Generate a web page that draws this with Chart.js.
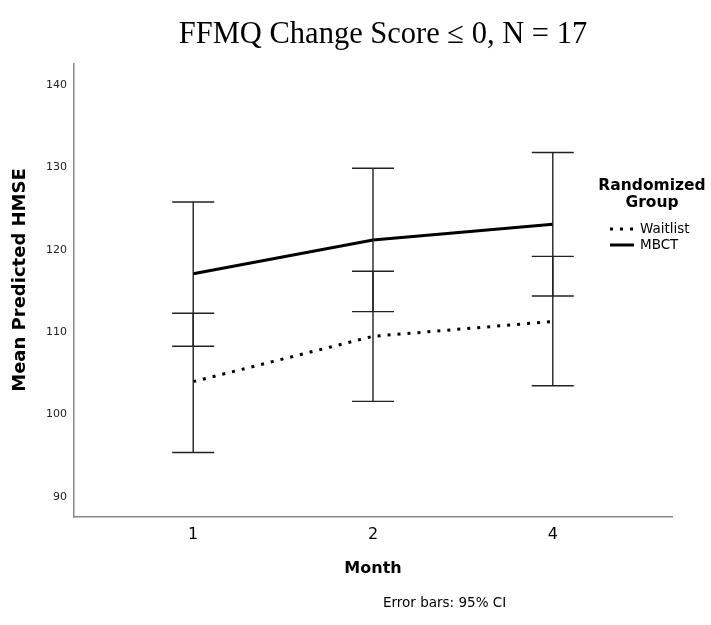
<!DOCTYPE html>
<html>
<head>
<meta charset="utf-8">
<script src="https://cdn.jsdelivr.net/npm/chart.js@4/dist/chart.umd.min.js"></script>
<style>
  html, body { margin: 0; padding: 0; background: #fff; }
  #wrap { width: 711px; height: 625px; }
</style>
</head>
<body>
<div id="wrap"><canvas id="chart" width="711" height="625"></canvas></div>
<script>
  'use strict'

  // months on the x axis (equally spaced, as in the SPSS plot)
  const monthLabels = ['1', '2', '4']
  const monthSlots = [1, 2, 3]

  const waitlistMean = [104.0, 109.5, 111.3]
  const waitlistLow = [95.4, 101.6, 103.5]
  const waitlistHigh = [112.3, 117.4, 119.2]

  const mbctMean = [117.1, 121.2, 123.1]
  const mbctLow = [108.3, 112.5, 114.4]
  const mbctHigh = [125.8, 129.9, 131.8]

  const yTicks = [90, 100, 110, 120, 130, 140]

  const sans = '"DejaVu Sans", "Noto Sans", sans-serif'
  const serif = '"Liberation Serif", "Times New Roman", serif'

  const toPoints = values => values.map((v, i) => ({ x: monthSlots[i], y: v }))

  // error bars are drawn through the scales
  const errorBars = {
    id: 'errorBars',
    afterDatasetsDraw(chart) {
      const { ctx, scales: { x, y } } = chart
      ctx.save()
      ctx.strokeStyle = '#222'
      ctx.lineWidth = 1.4
      chart.data.datasets.forEach(ds => {
        ds.low.forEach((lo, i) => {
          const px = x.getPixelForValue(monthSlots[i])
          const yLo = y.getPixelForValue(lo)
          const yHi = y.getPixelForValue(ds.high[i])
          ctx.beginPath()
          ctx.moveTo(px, yLo)
          ctx.lineTo(px, yHi)
          ctx.moveTo(px - 21, yLo)
          ctx.lineTo(px + 21, yLo)
          ctx.moveTo(px - 21, yHi)
          ctx.lineTo(px + 21, yHi)
          ctx.stroke()
        })
      })
      ctx.restore()
    }
  }

  // title, y title, legend and footnote, placed like the SPSS output
  const extras = {
    id: 'extras',
    afterDraw(chart) {
      const ctx = chart.ctx
      ctx.save()
      ctx.fillStyle = '#000'
      ctx.textBaseline = 'middle'
      ctx.textAlign = 'center'

      ctx.font = '30.5px ' + serif
      ctx.fillText('FFMQ Change Score ≤ 0, N = 17', 383, 35)

      ctx.save()
      ctx.translate(20, 280)
      ctx.rotate(-Math.PI / 2)
      ctx.font = 'bold 18px ' + sans
      ctx.fillText('Mean Predicted HMSE', 0, 0)
      ctx.restore()

      ctx.font = 'bold 15.5px ' + sans
      ctx.fillText('Randomized', 652, 186)
      ctx.fillText('Group', 652, 203)

      ctx.font = '13.5px ' + sans
      ctx.textAlign = 'left'
      chart.data.datasets.forEach((ds, i) => {
        const yy = 229 + i * 16
        ctx.beginPath()
        ctx.strokeStyle = '#000'
        ctx.lineWidth = 3
        ctx.setLineDash(ds.borderDash || [])
        ctx.moveTo(610, yy)
        ctx.lineTo(634, yy)
        ctx.stroke()
        ctx.setLineDash([])
        ctx.fillText(ds.label, 640, yy)
      })

      ctx.font = '13.5px ' + sans
      ctx.fillText('Error bars: 95% CI', 383, 603)
      ctx.restore()
    }
  }

  new Chart(document.getElementById('chart'), {
    type: 'line',
    data: {
      datasets: [
        {
          label: 'Waitlist',
          data: toPoints(waitlistMean),
          low: waitlistLow,
          high: waitlistHigh,
          borderColor: '#000',
          borderWidth: 3,
          borderDash: [3, 7],
          pointRadius: 0,
          tension: 0
        },
        {
          label: 'MBCT',
          data: toPoints(mbctMean),
          low: mbctLow,
          high: mbctHigh,
          borderColor: '#000',
          borderWidth: 3,
          pointRadius: 0,
          tension: 0
        }
      ]
    },
    options: {
      responsive: false,
      animation: false,
      layout: { padding: { left: 0, right: 39, top: 64, bottom: 0 } },
      plugins: {
        legend: { display: false },
        tooltip: { enabled: false },
        title: { display: false }
      },
      scales: {
        x: {
          type: 'linear',
          min: 0.337,
          max: 3.663,
          grid: { display: false, drawTicks: false },
          border: { display: true, color: '#888', width: 1.5 },
          afterBuildTicks: scale => {
            scale.ticks = monthSlots.map(v => ({ value: v }))
          },
          afterFit: scale => { scale.height = 108 },
          ticks: {
            color: '#000',
            padding: 8,
            font: { family: sans, size: 16 },
            callback: v => monthLabels[monthSlots.indexOf(v)]
          },
          title: {
            display: true,
            text: 'Month',
            color: '#000',
            font: { family: sans, size: 16, weight: 'bold' },
            padding: { top: 12, bottom: 47 }
          }
        },
        y: {
          min: 87.57,
          max: 142.55,
          grid: { display: false, drawTicks: false },
          border: { display: true, color: '#888', width: 1.5 },
          afterBuildTicks: scale => {
            scale.ticks = yTicks.map(v => ({ value: v }))
          },
          afterFit: scale => { scale.width = 74 },
          ticks: {
            color: '#222',
            padding: 7,
            font: { family: sans, size: 11 }
          }
        }
      }
    },
    plugins: [errorBars, extras]
  })
</script>
</body>
</html>
